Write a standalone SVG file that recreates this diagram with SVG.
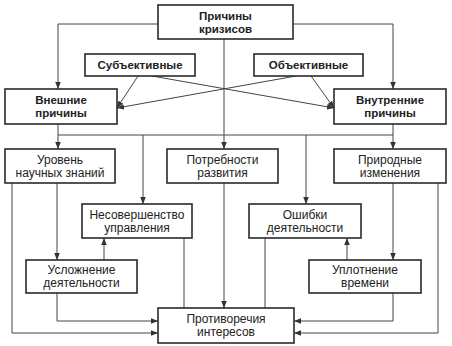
<svg xmlns="http://www.w3.org/2000/svg" width="452" height="346" viewBox="0 0 452 346">
<style>
.box{fill:#fff;stroke:#2a2a2a;stroke-width:1.6}
.t{font-family:"Liberation Sans",Arial,sans-serif;font-size:12px;fill:#222;text-anchor:middle}
.b{font-weight:bold;font-size:11.5px}
.ln{fill:none;stroke:#444;stroke-width:1}
</style>
<defs>
<marker id="a" viewBox="0 0 10 10" refX="10" refY="5" markerWidth="7" markerHeight="7" orient="auto" markerUnits="userSpaceOnUse">
<path d="M0,1 L10,5 L0,9 z" fill="#333"/>
</marker>
</defs>
<rect width="452" height="346" fill="#fff"/>
<g id="connectors">
<path class="ln" d="M158,24 H58 V89" marker-end="url(#a)"/>
<path class="ln" d="M293,24 H393 V89" marker-end="url(#a)"/>
<path class="ln" d="M224,39 V149" marker-end="url(#a)"/>
<path class="ln" d="M138,76 L117,108" marker-end="url(#a)"/>
<path class="ln" d="M152,76 L334,108" marker-end="url(#a)"/>
<path class="ln" d="M296,76 L117,108" marker-end="url(#a)"/>
<path class="ln" d="M311,76 L334,108" marker-end="url(#a)"/>
<path class="ln" d="M58,124 V135 H393"/>
<path class="ln" d="M393,124 V149" marker-end="url(#a)"/>
<path class="ln" d="M58,135 V149" marker-end="url(#a)"/>
<path class="ln" d="M143,135 V204" marker-end="url(#a)"/>
<path class="ln" d="M306,135 V204" marker-end="url(#a)"/>
<path class="ln" d="M57,183 V260" marker-end="url(#a)"/>
<path class="ln" d="M12,183 V333 H158" marker-end="url(#a)"/>
<path class="ln" d="M104,260 V238" marker-end="url(#a)"/>
<path class="ln" d="M57,293 V321 H158" marker-end="url(#a)"/>
<path class="ln" d="M184,238 V308"/>
<path class="ln" d="M224,183 V308" marker-end="url(#a)"/>
<path class="ln" d="M393,183 V260" marker-end="url(#a)"/>
<path class="ln" d="M438,183 V333 H294" marker-end="url(#a)"/>
<path class="ln" d="M347,260 V238" marker-end="url(#a)"/>
<path class="ln" d="M393,293 V321 H294" marker-end="url(#a)"/>
<path class="ln" d="M265,238 V308"/>
</g>
<g id="n-prichiny">
<rect class="box" x="158" y="5" width="135" height="34"/>
<text class="t b" x="225.5" y="20">Причины</text>
<text class="t b" x="225.5" y="33">кризисов</text>
</g>
<g id="n-subj">
<rect class="box" x="85" y="54" width="110" height="22"/>
<text class="t b" x="140" y="69">Субъективные</text>
</g>
<g id="n-obj">
<rect class="box" x="254" y="54" width="109" height="22"/>
<text class="t b" x="308.5" y="69">Объективные</text>
</g>
<g id="n-vnesh">
<rect class="box" x="5" y="89" width="112" height="35"/>
<text class="t b" x="61" y="104">Внешние</text>
<text class="t b" x="61" y="117">причины</text>
</g>
<g id="n-vnutr">
<rect class="box" x="334" y="89" width="112" height="35"/>
<text class="t b" x="390" y="104">Внутренние</text>
<text class="t b" x="390" y="117">причины</text>
</g>
<g id="n-uroven">
<rect class="box" x="5" y="149" width="110" height="34"/>
<text class="t" x="60" y="164">Уровень</text>
<text class="t" x="60" y="177">научных знаний</text>
</g>
<g id="n-potreb">
<rect class="box" x="167" y="149" width="111" height="34"/>
<text class="t" x="222.5" y="164">Потребности</text>
<text class="t" x="222.5" y="177">развития</text>
</g>
<g id="n-prirod">
<rect class="box" x="334" y="149" width="112" height="34"/>
<text class="t" x="390" y="164">Природные</text>
<text class="t" x="390" y="177">изменения</text>
</g>
<g id="n-nesov">
<rect class="box" x="82" y="204" width="110" height="34"/>
<text class="t" x="137" y="219">Несовершенство</text>
<text class="t" x="137" y="232">управления</text>
</g>
<g id="n-oshib">
<rect class="box" x="249" y="204" width="112" height="34"/>
<text class="t" x="305" y="219">Ошибки</text>
<text class="t" x="305" y="232">деятельности</text>
</g>
<g id="n-uslozh">
<rect class="box" x="26" y="260" width="111" height="33"/>
<text class="t" x="81.5" y="274">Усложнение</text>
<text class="t" x="81.5" y="287">деятельности</text>
</g>
<g id="n-uplotn">
<rect class="box" x="309" y="260" width="112" height="33"/>
<text class="t" x="365" y="274">Уплотнение</text>
<text class="t" x="365" y="287">времени</text>
</g>
<g id="n-protiv">
<rect class="box" x="158" y="308" width="136" height="35"/>
<text class="t" x="226" y="323">Противоречия</text>
<text class="t" x="226" y="336">интересов</text>
</g>
</svg>
